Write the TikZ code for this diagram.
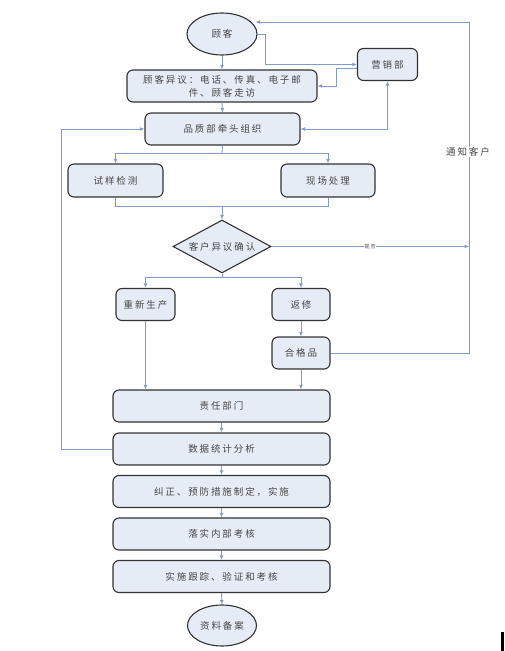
\documentclass[tikz,border=0pt]{standalone}
\usepackage{fontspec}
\usetikzlibrary{shapes.geometric,arrows.meta}
\newfontfamily\cjk[LetterSpace=20]{Noto Sans CJK SC}
\definecolor{boxfill}{RGB}{230,236,246}
\definecolor{boxline}{RGB}{50,50,50}
\definecolor{connline}{RGB}{128,156,204}
\definecolor{txt}{RGB}{70,70,70}
\tikzset{
  box/.style={draw=boxline, line width=1.1pt, fill=boxfill, rounded corners=6pt, inner sep=0pt,
    font=\cjk\fontsize{9.5}{13}\selectfont, text=txt, align=center},
  oval/.style={ellipse, draw=boxline, line width=1.1pt, fill=boxfill, inner sep=0pt,
    font=\cjk\fontsize{9.5}{13}\selectfont, text=txt},
  dia/.style={diamond, draw=boxline, line width=1.1pt, fill=boxfill, inner sep=0pt, aspect=1.85,
    font=\cjk\fontsize{9.5}{13}\selectfont, text=txt},
  tip/.tip={Latex[length=4.5pt,width=4pt]},
  conn/.style={draw=connline, line width=0.9pt, -tip},
  plain/.style={draw=connline, line width=0.9pt},
  lbl/.style={font=\cjk\fontsize{9.5}{13}\selectfont, text=txt, fill=white, inner sep=1pt},
  tiny/.style={font=\cjk\fontsize{5}{6}\selectfont, text=txt, fill=white, inner sep=0.5pt}
}
\begin{document}
\begin{tikzpicture}[x=1pt,y=-1pt]
\useasboundingbox (0,0) rectangle (504,651);
% nodes
\node[oval, minimum width=70pt, minimum height=42pt] (guke) at (222,34) {顾客};
\node[box, minimum width=190pt, minimum height=32pt] (yiyi) at (222,86) {顾客异议：电话、传真、电子邮\\件、顾客走访};
\node[box, minimum width=60pt, minimum height=32pt] (yingxiao) at (387.5,64.5) {营销部};
\node[box, minimum width=155pt, minimum height=32pt] (pinzhi) at (222.5,129) {品质部牵头组织};
\node[box, minimum width=95pt, minimum height=33pt] (shiyang) at (115.5,180.5) {试样检测};
\node[box, minimum width=94pt, minimum height=33pt] (xianchang) at (328,180.5) {现场处理};
\node[dia, minimum width=98pt, minimum height=53pt] (queren) at (222,246.5) {客户异议确认};
\node[box, minimum width=59pt, minimum height=32pt] (chongxin) at (145.5,304.5) {重新生产};
\node[box, minimum width=58pt, minimum height=32pt] (fanxiu) at (301,304.5) {返修};
\node[box, minimum width=58pt, minimum height=32pt] (hege) at (301,353) {合格品};
\node[box, minimum width=217pt, minimum height=32pt] (zeren) at (221.5,406) {责任部门};
\node[box, minimum width=217pt, minimum height=32pt] (shuju) at (221.5,449) {数据统计分析};
\node[box, minimum width=217pt, minimum height=32pt] (jiuzheng) at (221.5,491.5) {纠正、预防措施制定，实施};
\node[box, minimum width=217pt, minimum height=32pt] (luoshi) at (221.5,534) {落实内部考核};
\node[box, minimum width=217pt, minimum height=32pt] (shishi) at (221.5,576.5) {实施跟踪、验证和考核};
\node[oval, minimum width=69pt, minimum height=41pt] (ziliao) at (222,625.5) {资料备案};
% coordinates
\coordinate (rt) at (469,22);
\coordinate (s1) at (222,153);
\coordinate (m1) at (222,206.5);
\coordinate (s2) at (222,277);
\coordinate (rr) at (469,246.5);
% connectors
\draw[conn] (guke.south) -- (yiyi.north);
\draw[conn] (guke.east) -- ++(8,0) |- (yingxiao.west);
\draw[conn] ([yshift=-4pt]yingxiao.west) -- ++(-21,0) |- (yiyi.east);
\draw[conn] (yiyi.south) -- (pinzhi.north);
\draw[conn, tip-tip] (yingxiao.south) |- (pinzhi.east);
\draw[conn] (shuju.west) -- ++(-51,0) |- (pinzhi.west);
\draw[plain] (pinzhi.south) -- (s1);
\draw[conn] (s1) -| (shiyang.north);
\draw[conn] (s1) -| (xianchang.north);
\draw[plain] (shiyang.south) |- (m1) -| (xianchang.south);
\draw[conn] (m1) -- (queren.north);
\draw[plain] (queren.south) -- (s2);
\draw[conn] (s2) -| (chongxin.north);
\draw[conn] (s2) -| (fanxiu.north);
\draw[conn] (queren.east) -- (rr);
\node[tiny] (shifou) at (370,246.5) {是否};
\draw[conn] (fanxiu.south) -- (hege.north);
\draw[conn] (chongxin.south) -- (chongxin.south |- zeren.north);
\draw[conn] (hege.south) -- (hege.south |- zeren.north);
\draw[conn] (hege.east) -| (rt) -- ([xshift=-2pt]guke.east |- rt);
\node[lbl] (tongzhi) at (468,152) {通知客户};
\draw[conn] (zeren.south) -- (shuju.north);
\draw[conn] (shuju.south) -- (jiuzheng.north);
\draw[conn] (jiuzheng.south) -- (luoshi.north);
\draw[conn] (luoshi.south) -- (shishi.north);
\draw[conn] (shishi.south) -- (ziliao.north);
\fill[black] (500.5,632) rectangle (503.5,651);
\end{tikzpicture}
\end{document}
